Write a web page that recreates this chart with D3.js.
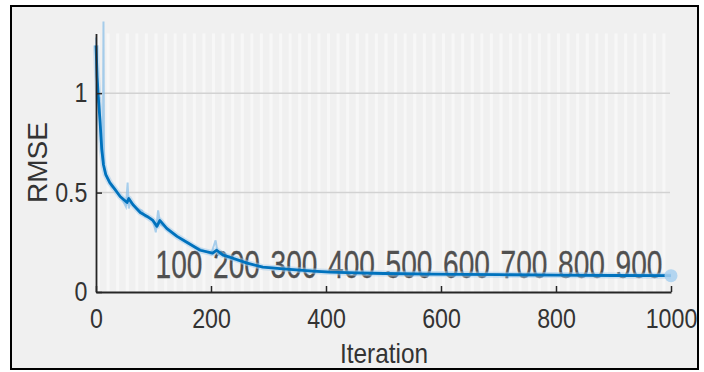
<!DOCTYPE html>
<html>
<head>
<meta charset="utf-8">
<script src="https://cdn.jsdelivr.net/npm/d3@7"></script>
<style>
  body { margin: 0; background: #fff; }
  text { font-family: "Liberation Sans", Arial, sans-serif; }
</style>
</head>
<body>
<script>
// smoothed training RMSE
var smoothIter = [0, 2, 4, 7, 10, 13, 17, 24, 32, 42, 50, 54, 57, 64, 77, 89, 99, 106, 111, 123, 141, 158, 181, 203, 210, 221, 233, 263, 290, 320, 377, 407, 450, 500, 580, 700, 800, 900, 1000];
var smoothRmse = [1.24, 1.08, 0.98, 0.86, 0.72, 0.64, 0.59, 0.55, 0.52, 0.48, 0.46, 0.45, 0.47, 0.44, 0.40, 0.38, 0.36, 0.33, 0.36, 0.32, 0.28, 0.25, 0.21, 0.195, 0.21, 0.185, 0.175, 0.145, 0.125, 0.118, 0.105, 0.10, 0.096, 0.093, 0.09, 0.087, 0.085, 0.083, 0.082];

// raw (unsmoothed) RMSE, light blue
var rawIter = [0, 3, 6, 9, 12, 13, 14, 16, 20, 27, 35, 45, 52, 55, 57, 60, 70, 80, 85, 95, 100, 104, 108, 112, 118, 125, 135, 150, 170, 190, 200, 208, 212, 220, 230, 250, 280, 320, 360, 420, 500, 600, 700, 800, 900, 1000];
var rawRmse = [1.28, 0.95, 0.98, 0.72, 0.66, 1.36, 0.62, 0.60, 0.57, 0.53, 0.51, 0.47, 0.43, 0.55, 0.42, 0.46, 0.42, 0.41, 0.38, 0.37, 0.35, 0.30, 0.41, 0.34, 0.33, 0.31, 0.29, 0.26, 0.23, 0.205, 0.19, 0.26, 0.19, 0.19, 0.17, 0.155, 0.13, 0.12, 0.11, 0.10, 0.095, 0.09, 0.088, 0.085, 0.084, 0.082];

// epoch labels written inside the plot
var epochLabels = [100, 200, 300, 400, 500, 600, 700, 800, 900];

var xTicks = [0, 200, 400, 600, 800, 1000];
var yTicks = [0, 0.5, 1];

var x = d3.scaleLinear().domain([0, 1000]).range([96, 671]);
var y = d3.scaleLinear().domain([0, 1.3]).range([292, 33.5]);

var svg = d3.select("body").append("svg")
    .attr("width", 704)
    .attr("height", 372);

// figure frame
svg.append("rect")
    .attr("x", 11).attr("y", 6)
    .attr("width", 687).attr("height", 363)
    .attr("fill", "#f0f0f0")
    .attr("stroke", "#000")
    .attr("stroke-width", 2);

// light vertical epoch stripes
var stripes = d3.range(0, 1000, 1000 / 60);
svg.append("g").selectAll("rect")
    .data(stripes)
  .enter().append("rect")
    .attr("x", function(d) { return x(d) + 1; })
    .attr("y", y(1.3))
    .attr("width", 3)
    .attr("height", y(0) - y(1.3))
    .attr("fill", "#f7f7f7");

// horizontal grid
svg.append("g").selectAll("line")
    .data([0.5, 1])
  .enter().append("line")
    .attr("x1", x(0)).attr("x2", x(1000) - 1)
    .attr("y1", function(d) { return y(d); })
    .attr("y2", function(d) { return y(d); })
    .attr("stroke", "#d2d2d2")
    .attr("stroke-width", 1.5);

// big epoch labels
svg.append("g").selectAll("text")
    .data(epochLabels)
  .enter().append("text")
    .attr("transform", function(d) { return "translate(" + (x(d) + 2) + ",278) scale(0.74,1)"; })
    .attr("font-size", 38)
    .attr("fill", "#505050")
    .attr("stroke", "#505050")
    .attr("stroke-width", 0.3)
    .text(function(d) { return d; });

var line = d3.line()
    .x(function(d) { return x(d[0]); })
    .y(function(d) { return y(d[1]); });

// faint halo + raw series
svg.append("path")
    .datum(d3.zip(smoothIter, smoothRmse))
    .attr("d", line)
    .attr("fill", "none")
    .attr("stroke", "#9fcaec")
    .attr("stroke-opacity", 0.5)
    .attr("stroke-width", 6)
    .attr("stroke-linejoin", "round");

svg.append("path")
    .datum(d3.zip(rawIter, rawRmse))
    .attr("d", line)
    .attr("fill", "none")
    .attr("stroke", "#8cc0e8")
    .attr("stroke-opacity", 0.75)
    .attr("stroke-width", 2);

svg.append("path")
    .datum(d3.zip(smoothIter, smoothRmse))
    .attr("d", line)
    .attr("fill", "none")
    .attr("stroke", "#0072bd")
    .attr("stroke-width", 2.8)
    .attr("stroke-linejoin", "round");

// final value marker
svg.append("circle")
    .attr("cx", x(1000))
    .attr("cy", y(rawRmse[rawRmse.length - 1]))
    .attr("r", 6.5)
    .attr("fill", "#a8d0f0")
    .attr("fill-opacity", 0.85);

// axes
var xAxis = svg.append("g")
    .attr("transform", "translate(0," + y(0) + ")")
    .call(d3.axisBottom(x).tickValues(xTicks).tickSize(-6).tickSizeOuter(0).tickPadding(17).tickFormat(d3.format("")));
var yAxis = svg.append("g")
    .attr("transform", "translate(" + x(0) + ",0)")
    .call(d3.axisLeft(y).tickValues(yTicks).tickSize(-6).tickSizeOuter(0).tickPadding(10).tickFormat(d3.format("")));

[xAxis, yAxis].forEach(function(a) {
  a.select(".domain").attr("stroke", "#262626").attr("stroke-width", 1.8);
  a.selectAll(".tick line").attr("stroke", "#262626").attr("stroke-width", 1.5);
  a.selectAll(".tick text")
    .attr("font-size", 27)
    .attr("font-family", "Liberation Sans, Arial, sans-serif")
    .attr("fill", "#333")
    .attr("transform", "scale(0.86,1)");
});

// axis titles
svg.append("text")
    .attr("transform", "translate(384,363) scale(0.87,1)")
    .attr("text-anchor", "middle")
    .attr("font-size", 28)
    .attr("fill", "#333")
    .text("Iteration");

svg.append("text")
    .attr("transform", "translate(47,162.5) rotate(-90)")
    .attr("text-anchor", "middle")
    .attr("font-size", 28)
    .attr("fill", "#333")
    .text("RMSE");
</script>
</body>
</html>
